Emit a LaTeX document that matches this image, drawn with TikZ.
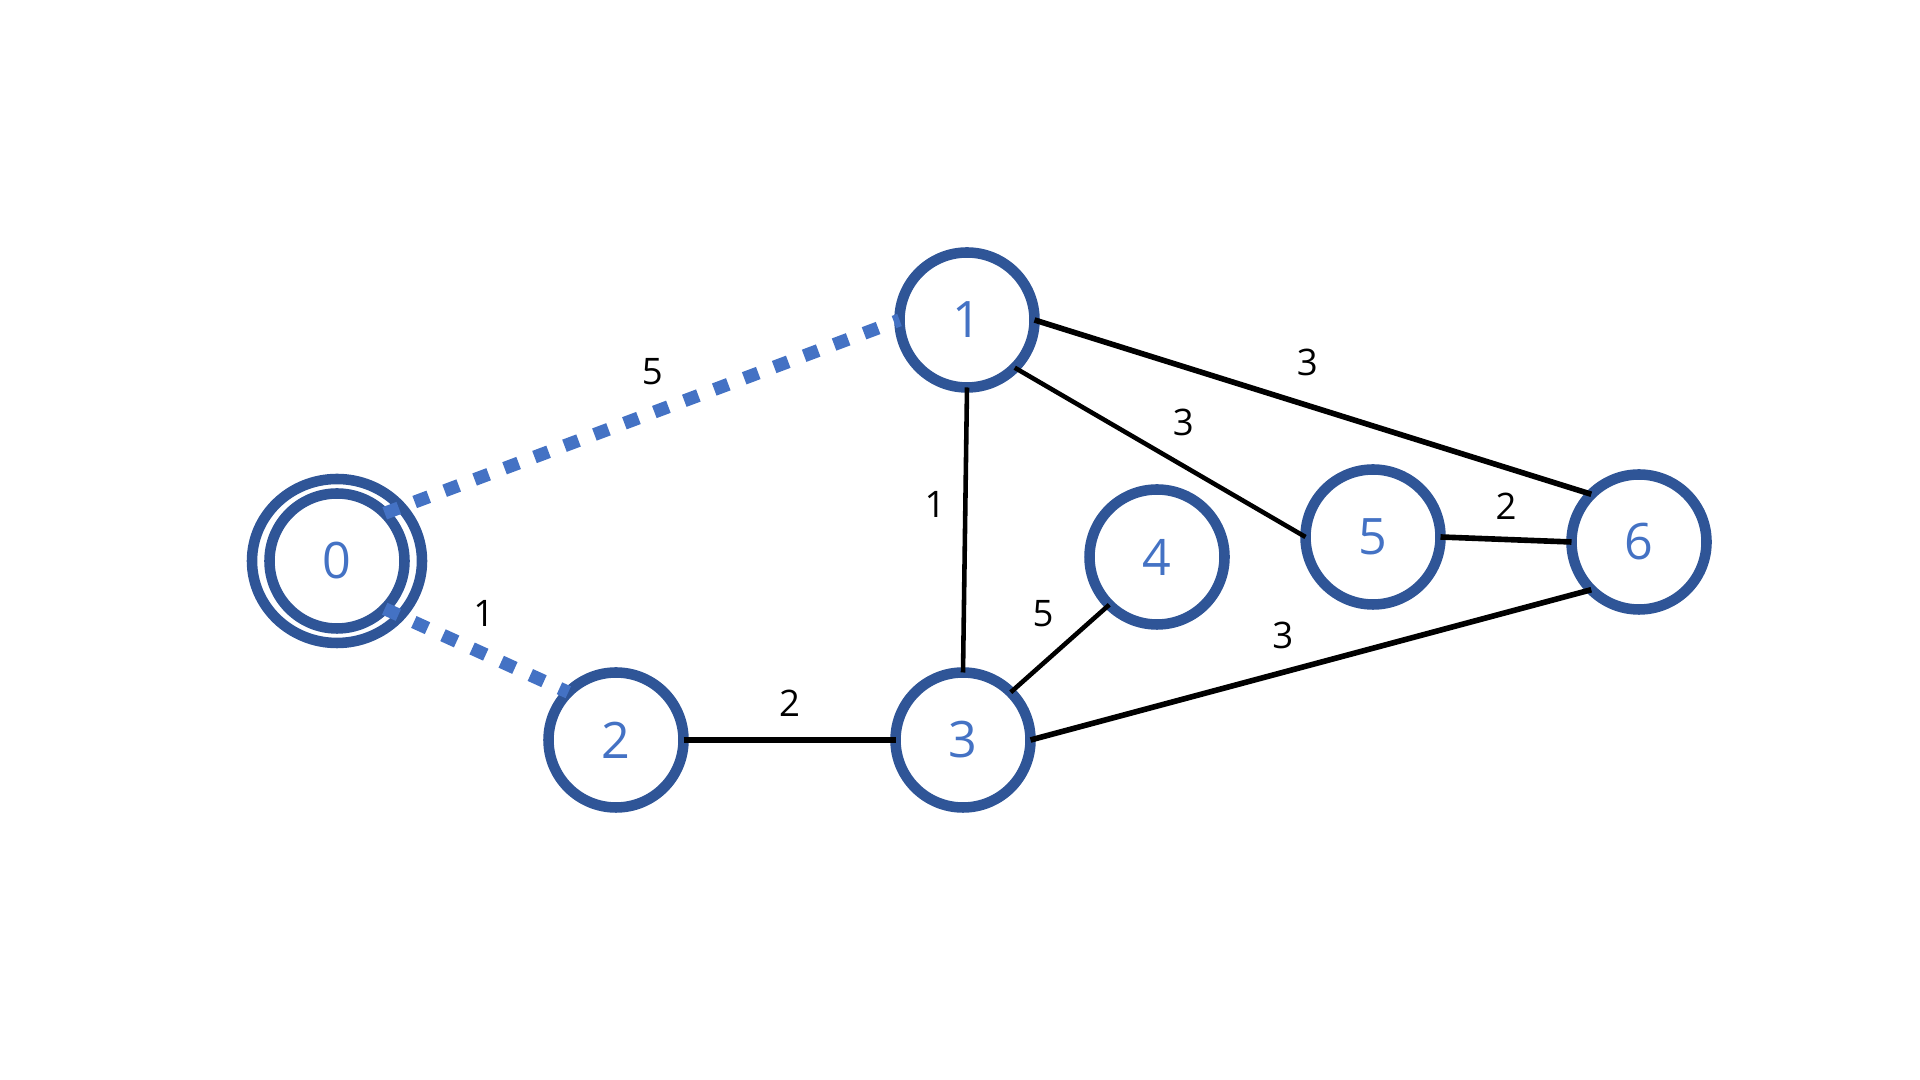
\documentclass[tikz,border=0pt]{standalone}
\usepackage{fontspec}
\setmainfont{Open Sans}
\usepackage{tikz}
\definecolor{ringblue}{HTML}{2F5597}
\definecolor{textblue}{HTML}{4472C4}
\tikzstyle{vert} = [circle, draw=ringblue, line width=3pt, minimum size=1.35cm, inner sep=0pt, outer sep=0pt, text=textblue, font=\fontsize{14.3}{16}\selectfont]
\tikzstyle{link} = [line width=1.6pt]
\tikzstyle{thin link} = [line width=1.3pt]
\tikzstyle{tree link} = [draw=textblue, line width=3.7pt, dash pattern=on 0.15cm off 0.17cm]
\tikzstyle{wt} = [inner sep=6pt, font=\fontsize{10.4}{12}\selectfont, text=black]

\begin{document}
\begin{tikzpicture}
\useasboundingbox (0,0) rectangle (19.2,10.8);
\node[vert] (n0) at (3.37,5.19) {0};
\draw[ringblue, line width=3pt] (n0.center) ellipse [x radius=0.85cm, y radius=0.82cm];
\node[vert] (n1) at (9.67,7.60) {1};
\node[vert] (n2) at (6.16,3.40) {2};
\node[vert] (n3) at (9.63,3.40) {3};
\node[vert] (n4) at (11.57,5.23) {4};
\node[vert] (n5) at (13.73,5.43) {5};
\node[vert] (n6) at (16.39,5.38) {6};

\draw[tree link] (n0.45) -- node[wt, above, pos=0.52] (w01) {5} (n1.west);
\draw[tree link] (n0.-45) -- node[wt, above, pos=0.54] (w02) {1} (n2.north west);
\draw[link] (n2.east) -- node[wt, above] (w23) {2} (n3.west);
\draw[thin link] (n1.south) -- node[wt, left, pos=0.41, xshift=1pt] (w13) {1} (n3.north);
\draw[thin link] (n3.north east) -- node[wt, above left, pos=0.6, xshift=2pt, yshift=-3pt] (w34) {5} (n4.south west);
\draw[thin link] (n1.south east) -- node[wt, above right, xshift=-3pt, yshift=-2pt] (w15) {3} (n5.west);
\draw[link] (n1.east) -- node[wt, above, pos=0.49, yshift=1.5pt] (w16) {3} (n6.north west);
\draw[link] (n5.east) -- node[wt, above, yshift=-1pt] (w56) {2} (n6.west);
\draw[link] (n3.east) -- node[wt, above, pos=0.45] (w36) {3} (n6.south west);
\end{tikzpicture}
\end{document}
